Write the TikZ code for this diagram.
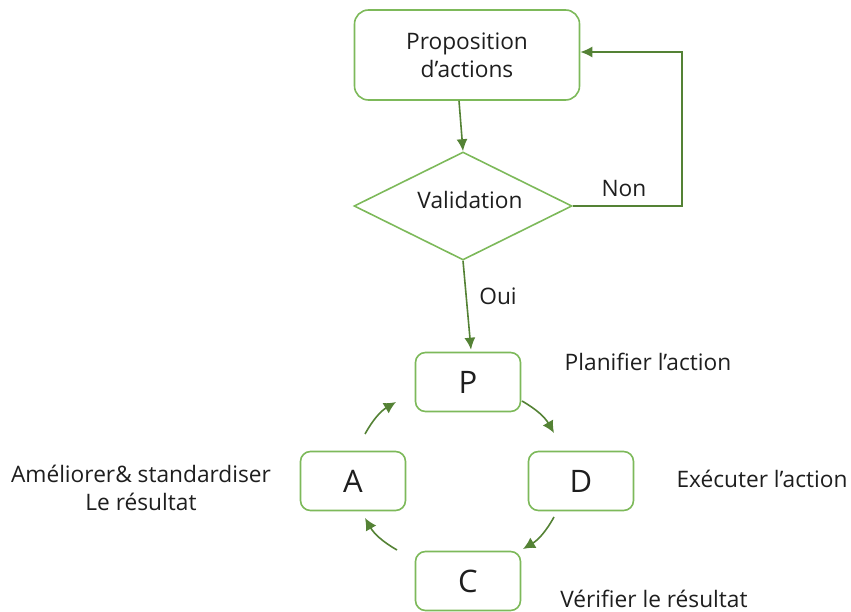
\documentclass[tikz,border=0pt]{standalone}
\usepackage{fontspec}
\setmainfont{Open Sans}
\usetikzlibrary{shapes.geometric,arrows.meta}
\definecolor{boxgreen}{RGB}{125,185,90}
\definecolor{arrowgreen}{RGB}{84,130,53}
\definecolor{txt}{RGB}{30,30,30}
\begin{document}
\begin{tikzpicture}[x=1pt,y=-1pt,
  lbl/.style={text=txt,font=\fontsize{22.7}{28}\selectfont,align=center,inner sep=0pt},
  box/.style={draw=boxgreen,line width=1.6pt,rounded corners=14pt,inner sep=0pt,
    minimum width=225pt,minimum height=90pt,text=txt,align=center,
    font=\fontsize{22.7}{28}\selectfont},
  pdca/.style={draw=boxgreen,line width=1.6pt,rounded corners=10pt,inner sep=0pt,
    minimum width=105pt,minimum height=59pt,text=txt,
    font=\fontsize{31}{34}\selectfont},
  decision/.style={draw=boxgreen,line width=1.6pt,diamond,inner sep=0pt,
    minimum width=218pt,minimum height=108pt},
  arr/.style={draw=arrowgreen,line width=1.6pt,-{Latex[length=12pt,width=11pt]}},
  cyc/.style={draw=arrowgreen,line width=1.6pt,-{Latex[length=12pt,width=12pt]}}]
  \useasboundingbox (0,0) rectangle (851,612);

  % decision part
  \node[box] (prop) at (467,55) {Proposition\\d’actions};
  \node[decision] (val) at (463,206) {};
  \node[lbl] (valtxt) at (470,200) {Validation};

  % PDCA boxes
  \node[pdca] (P) at (468,382) {P};
  \node[pdca] (A) at (353,481) {A};
  \node[pdca] (D) at (581,481) {D};
  \node[pdca] (C) at (468,581) {C};

  % connectors of the decision part
  \draw[arr] ([xshift=-8pt]prop.south) -- (val.north);
  \draw[arr] (val.east) -- ++(109,0) |- ([yshift=3pt]prop.east);
  \draw[arr] (val.south) -- ([xshift=3pt,yshift=2pt]P.north);
  \node[lbl] (non) at (624,189) {Non};
  \node[lbl] (oui) at (498,296) {Oui};

  % cycle arrows
  \coordinate (pd1) at (522,401);
  \coordinate (pd2) at (554,433);
  \coordinate (dc1) at (554,517);
  \coordinate (dc2) at (523,549);
  \coordinate (ca1) at (397,550);
  \coordinate (ca2) at (365,518);
  \coordinate (ap1) at (365,434);
  \coordinate (ap2) at (396,402);
  \draw[cyc] (pd1) to[bend left=15] (pd2);
  \draw[cyc] (dc1) to[bend left=15] (dc2);
  \draw[cyc] (ca1) to[bend left=15] (ca2);
  \draw[cyc] (ap1) to[bend left=15] (ap2);

  % step labels
  \node[lbl] (lp) at (648,362) {Planifier l’action};
  \node[lbl] (ld) at (762,479) {Exécuter l’action};
  \node[lbl] (lc) at (654,599) {Vérifier le résultat};
  \node[lbl] (la) at (141,488) {Améliorer\& standardiser\\Le résultat};
\end{tikzpicture}
\end{document}
